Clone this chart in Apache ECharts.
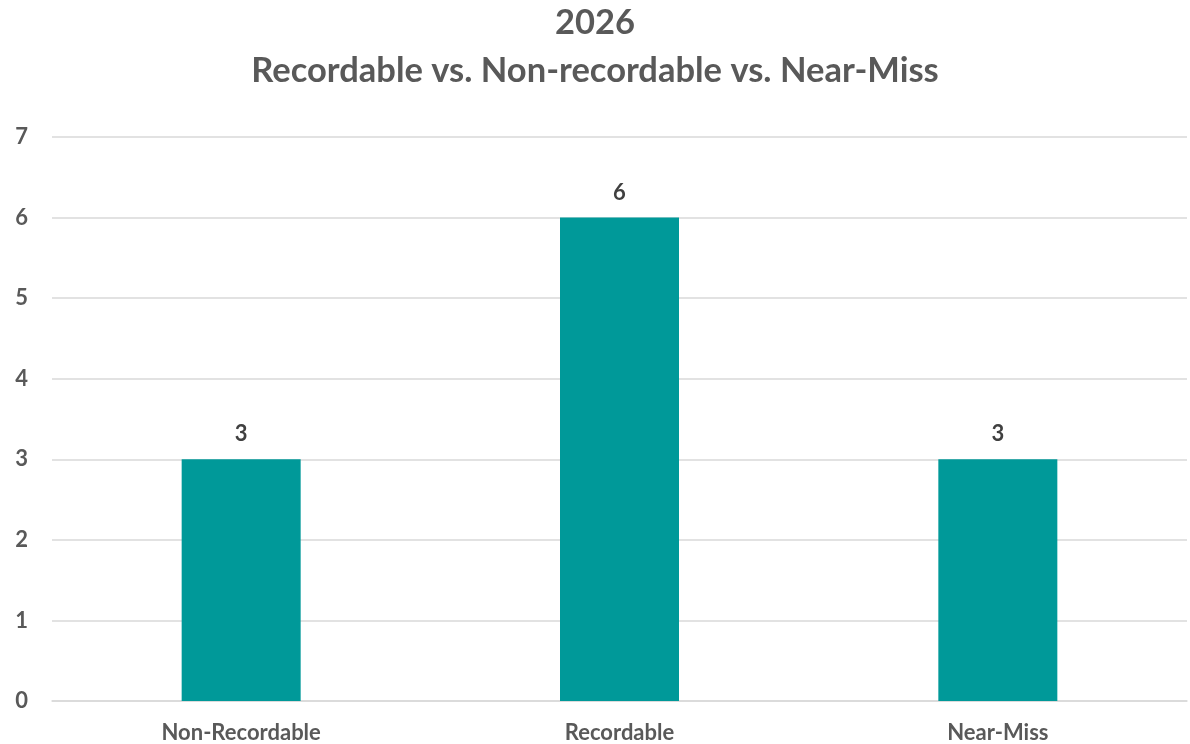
<!DOCTYPE html>
<html>
<head>
<meta charset="utf-8">
<script src="https://cdn.jsdelivr.net/npm/echarts@6/dist/echarts.min.js"></script>
<style>html,body{margin:0;padding:0;background:#fff}#c{width:1190px;height:744px}</style>
</head>
<body>
<div id="c"></div>
<script>
const titleLines = ["2026", "Recordable vs. Non-recordable vs. Near-Miss"];
const categories = ["Non-Recordable", "Recordable", "Near-Miss"];
const values = [3, 6, 3];
const yTicks = [0, 1, 2, 3, 4, 5, 6, 7];

const FONT = "Lato";
const chart = echarts.init(document.getElementById('c'));
chart.setOption({
  backgroundColor: '#ffffff',
  animation: false,
  title: {
    text: titleLines.join('\n'),
    left: 'center',
    top: -6,
    textStyle: { fontFamily: FONT, fontWeight: 'bold', fontSize: 34.5, color: '#595959', lineHeight: 48 }
  },
  grid: { left: 52, right: 3, top: 137, bottom: 43, containLabel: false },
  xAxis: {
    type: 'category',
    data: categories,
    axisLine: { show: true, lineStyle: { color: '#d9d9d9', width: 1.5 } },
    axisTick: { show: false },
    axisLabel: { margin: 21, fontFamily: FONT, fontWeight: 'bold', fontSize: 22, color: '#595959' }
  },
  yAxis: {
    type: 'value',
    min: yTicks[0],
    max: yTicks[yTicks.length - 1],
    interval: 1,
    axisLine: { show: false },
    axisTick: { show: false },
    splitLine: { lineStyle: { color: '#d9d9d9', width: 1.5 } },
    axisLabel: { margin: 24, fontFamily: FONT, fontWeight: 'bold', fontSize: 22, color: '#595959' }
  },
  series: [{
    type: 'bar',
    data: values,
    barWidth: 119,
    itemStyle: { color: '#009999' },
    label: { show: true, position: 'top', distance: 14, fontFamily: FONT, fontWeight: 'bold', fontSize: 22, color: '#404040' }
  }]
});
</script>
</body>
</html>
